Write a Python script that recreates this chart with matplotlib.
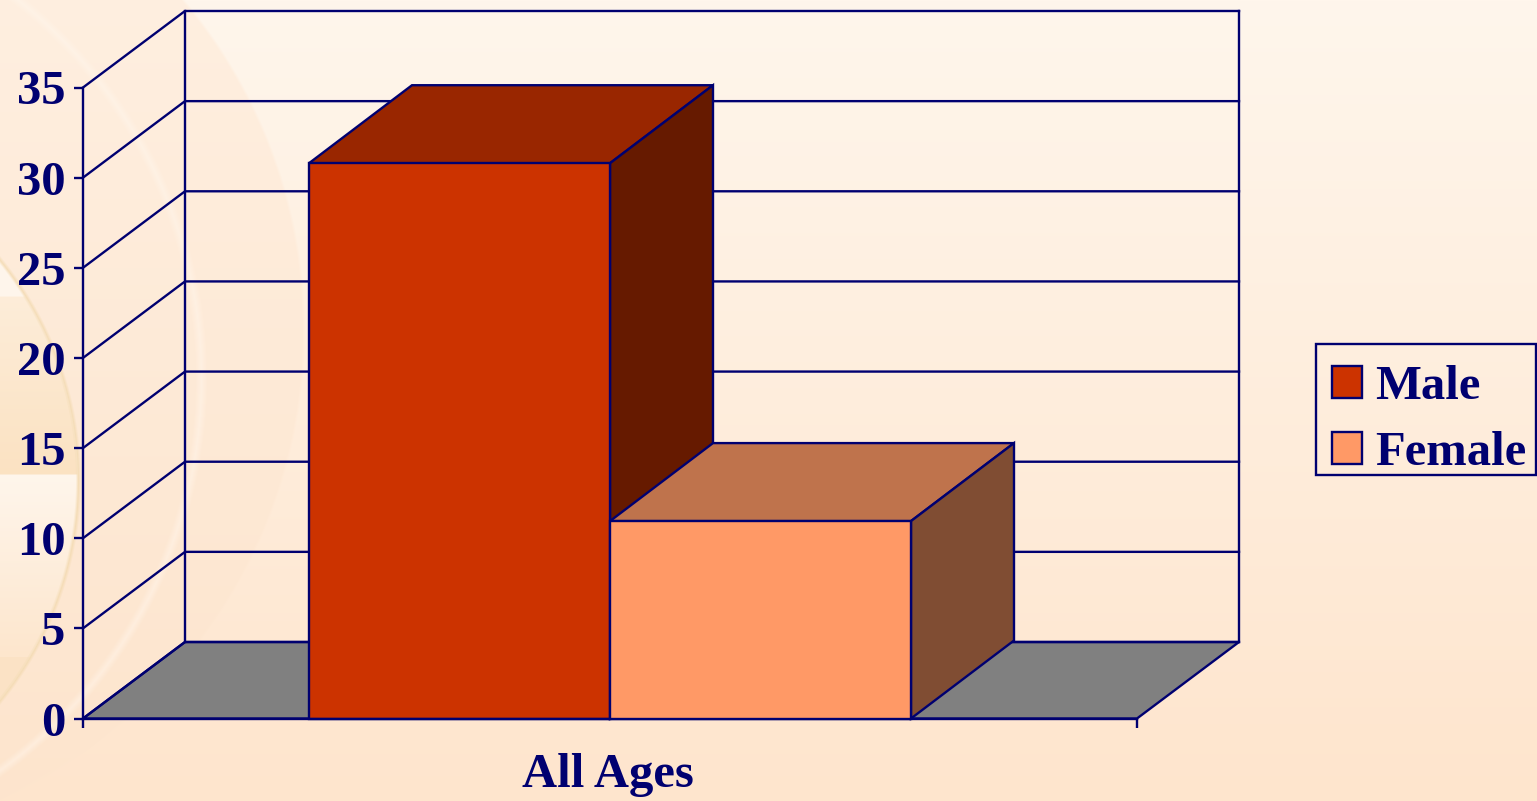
import numpy as np
import matplotlib
matplotlib.use("Agg")
import matplotlib.pyplot as plt
from matplotlib.patches import Patch, Rectangle

plt.rcParams.update({
    "font.family": ["Liberation Serif", "DejaVu Serif"],
    "font.weight": "bold",
    "font.size": 35,
})

category = ["All Ages"]
series_names = ["Male", "Female"]
series_values = [30.8, 10.95]
y_ticks = [0, 5, 10, 15, 20, 25, 30, 35]

navy = "#000070"
front_colors = ["#CC3300", "#FF9966"]
top_colors = ["#992600", "#BF734C"]
side_colors = ["#661A00", "#804D33"]
floor_color = "#808080"

W, H = 1537, 801
fig = plt.figure(figsize=(W / 100, H / 100), dpi=100)

# background: soft vertical gradient plus the pale discs on the left
yy, xx = np.mgrid[0:H, 0:W]
t = (yy / H)[..., None]
top_col = np.array([255, 246, 236.0])
bot_col = np.array([254, 229, 205.0])
img = top_col * (1 - t) + bot_col * t


def blend(mask, col, alpha=1.0):
    global img
    m = np.clip(mask, 0, 1)[..., None] * alpha
    img = img * (1 - m) + np.array(col, float) * m


# big outer disc and the thin light ring inside it
r_big = np.hypot(xx + 209, yy - 330)
blend((514 - r_big) / 3, (253, 228, 205), 0.4)
r_ring = np.hypot(xx + 281, yy - 378)
blend(1 - np.abs(r_ring - 482) / 6, (255, 247, 238), 0.45)

# small disc cut at the left edge
r_small = np.hypot(xx + 271, yy - 480)
inside = np.clip((349 - r_small) / 2, 0, 1)
blend(inside, (255, 247, 238), 0.9)
tan = np.clip((yy - 295) / 2, 0, 1) * np.clip((475 - yy) / 2, 0, 1)
blend(inside * tan * (0.45 + 0.55 * (yy - 295) / 180), (251, 226, 194), 1.0)
fade = np.where(yy >= 475, np.clip((yy - 475) / 182, 0, 1), 0)
blend(inside * fade, (253, 230, 205), 1.0)
blend(inside * (yy >= 657), (251, 226, 196), 0.8)
blend(1 - np.abs(r_small - 349) / 3, (241, 216, 172), 0.7)

bg = fig.add_axes([0, 0, 1, 1], zorder=0)
bg.imshow(img / 255, aspect="auto", interpolation="bilinear")
bg.axis("off")

# front plane of the 3d box
left, right, base, top = 83, 1137, 718.5, 87.5
ax = fig.add_axes([left / W, 1 - base / H, (right - left) / W, (base - top) / H], zorder=1)
ax.patch.set_alpha(0)
ax.set_xlim(-0.5, 0.5)
ax.set_ylim(0, 35)
px_y = (base - top) / 35
depth_x = 102 / (right - left)
depth_y = 76.5 / px_y
bar_depth_x = 103 / (right - left)
bar_depth_y = 78 / px_y
lw = 1.7

for s in ["top", "right"]:
    ax.spines[s].set_visible(False)
for s in ["left", "bottom"]:
    ax.spines[s].set_color(navy)
    ax.spines[s].set_linewidth(lw)

# back wall, side wall and floor
x0, x1 = -0.5, 0.5
ax.fill([x0, x1, x1 + depth_x, x0 + depth_x], [0, 0, depth_y, depth_y],
        facecolor=floor_color, edgecolor=navy, lw=lw, clip_on=False, zorder=1)
for v in y_ticks:
    ax.plot([x0, x0 + depth_x, x1 + depth_x], [v, v + depth_y, v + depth_y],
            color=navy, lw=lw, clip_on=False, zorder=1)
ax.plot([x0 + depth_x, x0 + depth_x], [depth_y, 35 + depth_y], color=navy, lw=lw, clip_on=False, zorder=1)
ax.plot([x1 + depth_x, x1 + depth_x], [depth_y, 35 + depth_y], color=navy, lw=lw, clip_on=False, zorder=1)

# bars
bar_w = 301 / (right - left)
for i, (name, val) in enumerate(zip(series_names, series_values)):
    xa = (i - 1) * bar_w
    xb = xa + bar_w
    z = 2 + i
    ax.bar(xa, val, width=bar_w, align="edge", color=front_colors[i], edgecolor=navy,
           lw=lw, zorder=z + 0.5, clip_on=False)
    ax.fill([xa, xb, xb + bar_depth_x, xa + bar_depth_x], [val, val, val + bar_depth_y, val + bar_depth_y],
            facecolor=top_colors[i], edgecolor=navy, lw=lw, clip_on=False, zorder=z)
    ax.fill([xb, xb + bar_depth_x, xb + bar_depth_x, xb], [0, bar_depth_y, val + bar_depth_y, val],
            facecolor=side_colors[i], edgecolor=navy, lw=lw, clip_on=False, zorder=z)

# axes ticks
ax.set_yticks(y_ticks)
ax.tick_params(axis="y", length=6.5, width=lw, color=navy, labelcolor=navy, pad=6, labelsize=35)
ax.set_xticks([-0.002])
ax.set_xticklabels(category)
ax.set_xticks([x0, x1], minor=True)
ax.tick_params(axis="x", which="major", length=0, labelcolor=navy, pad=25, labelsize=35)
ax.tick_params(axis="x", which="minor", length=6.5, width=lw, color=navy)

# legend box is drawn apart since the rows sit low inside it
fig.add_artist(Rectangle((1316 / W, 1 - 475 / H), 220 / W, 131 / H, transform=fig.transFigure,
                         facecolor="none", edgecolor=navy, lw=lw, zorder=5))
handles = [Patch(facecolor=c, edgecolor=navy, lw=lw) for c in front_colors]
leg = fig.legend(handles, series_names, loc="upper left",
                 bbox_to_anchor=(1332 / W, 1 - 365 / H),
                 borderaxespad=0, borderpad=0, frameon=False,
                 handlelength=0.62, handleheight=0.62, handletextpad=0.26,
                 labelspacing=0.45, labelcolor=navy, fontsize=35)
leg.set_zorder(6)

fig.savefig("out.png", dpi=100)
